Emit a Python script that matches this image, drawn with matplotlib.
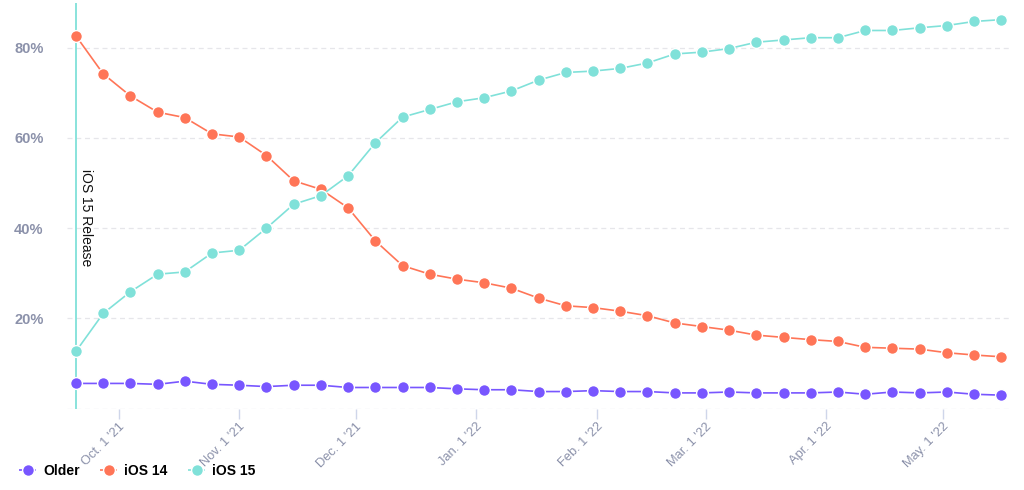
import numpy as np
import pandas as pd
import matplotlib
matplotlib.use("Agg")
import matplotlib.pyplot as plt

plt.rcParams['font.family'] = ['Liberation Sans', 'DejaVu Sans']

# weekly share of iOS versions, starting on iOS 15 release day
start_date = "2021-09-20"
n_weeks = 35

older = [5.6, 5.6, 5.6, 5.4, 6.1, 5.4, 5.2, 4.9, 5.2, 5.2,
         4.7, 4.7, 4.7, 4.7, 4.4, 4.2, 4.2, 3.8, 3.8, 4.0,
         3.8, 3.8, 3.5, 3.5, 3.7, 3.5, 3.5, 3.5, 3.7, 3.2,
         3.7, 3.5, 3.7, 3.2, 3.0]
ios14 = [82.6, 74.2, 69.3, 65.7, 64.5, 60.9, 60.2, 56.1, 50.5, 48.6,
         44.5, 37.2, 31.7, 29.8, 28.7, 27.9, 26.7, 24.5, 22.8, 22.4,
         21.6, 20.6, 19.0, 18.2, 17.4, 16.3, 15.8, 15.3, 14.9, 13.6,
         13.4, 13.2, 12.4, 11.9, 11.5]
ios15 = [12.7, 21.1, 25.9, 29.8, 30.3, 34.5, 35.1, 40.0, 45.3, 47.2,
         51.6, 58.9, 64.6, 66.3, 68.0, 68.9, 70.4, 72.8, 74.5, 74.8,
         75.4, 76.6, 78.6, 79.0, 79.8, 81.2, 81.7, 82.2, 82.2, 83.8,
         83.8, 84.4, 84.9, 85.8, 86.2]

series_names = ["Older", "iOS 14", "iOS 15"]
colors = ["#7856FF", "#FF7557", "#80E1D9"]

dates = pd.date_range(start_date, periods=n_weeks, freq="7D")
release = pd.Timestamp(start_date)

tick_dates = pd.to_datetime(["2021-10-01", "2021-11-01", "2021-12-01", "2022-01-01",
                             "2022-02-01", "2022-03-01", "2022-04-01", "2022-05-01"])
tick_labels = ["Oct. 1 '21", "Nov. 1 '21", "Dec. 1 '21", "Jan. 1 '22",
               "Feb. 1 '22", "Mar. 1 '22", "Apr. 1 '22", "May. 1 '22"]

fig = plt.figure(figsize=(10.24, 4.9), dpi=100)
ax = fig.add_axes([67 / 1024, 1 - 408.7 / 490, (1011 - 67) / 1024, (408.7 - 2.5) / 490])

grid_col = "#E6E6EA"
for y in [0, 20, 40, 60, 80]:
    ax.axhline(y, color=grid_col, lw=0.9, ls=(0, (4, 3)), zorder=0)

ax.axvline(release, color="#80E1D9", lw=1.3, zorder=1)
ax.text(release + pd.Timedelta(days=0.9), 53, "iOS 15 Release", rotation=270,
        va="top", ha="left", fontsize=10, color="#111111")

for vals, name, c in zip([older, ios14, ios15], series_names, colors):
    ax.plot(dates, vals, color=c, lw=1.2, marker="o", ms=8.5,
            mfc=c, mec="white", mew=1.0, label=name, zorder=3)

ax.set_ylim(0, 90)
ax.set_xlim(release - pd.Timedelta(days=2.3), dates[-1] + pd.Timedelta(days=2.5))

ax.set_yticks([20, 40, 60, 80])
ax.set_yticklabels(["20%", "40%", "60%", "80%"])
ax.tick_params(axis="y", length=0, pad=17, labelsize=10.5, labelcolor="#8B91AA")
for t in ax.get_yticklabels():
    t.set_fontweight("bold")

ax.set_xticks(tick_dates)
ax.set_xticklabels(tick_labels, rotation=45, ha="right", rotation_mode="anchor")
ax.tick_params(axis="x", length=7, width=1, color="#CFD6EA", pad=1.5,
               labelsize=9.3, labelcolor="#8B91AA")

for s in ax.spines.values():
    s.set_visible(False)

leg = fig.legend(loc="center left", bbox_to_anchor=(19 / 1024, 1 - 471 / 490), ncol=3,
                 frameon=False, borderpad=0, borderaxespad=0,
                 handlelength=1.3, columnspacing=1.45, handletextpad=0.45,
                 prop={"weight": "bold", "size": 10})
for h in leg.legend_handles:
    h.set_linestyle((0, (2, 2)))

fig.savefig("out.png", dpi=100)
